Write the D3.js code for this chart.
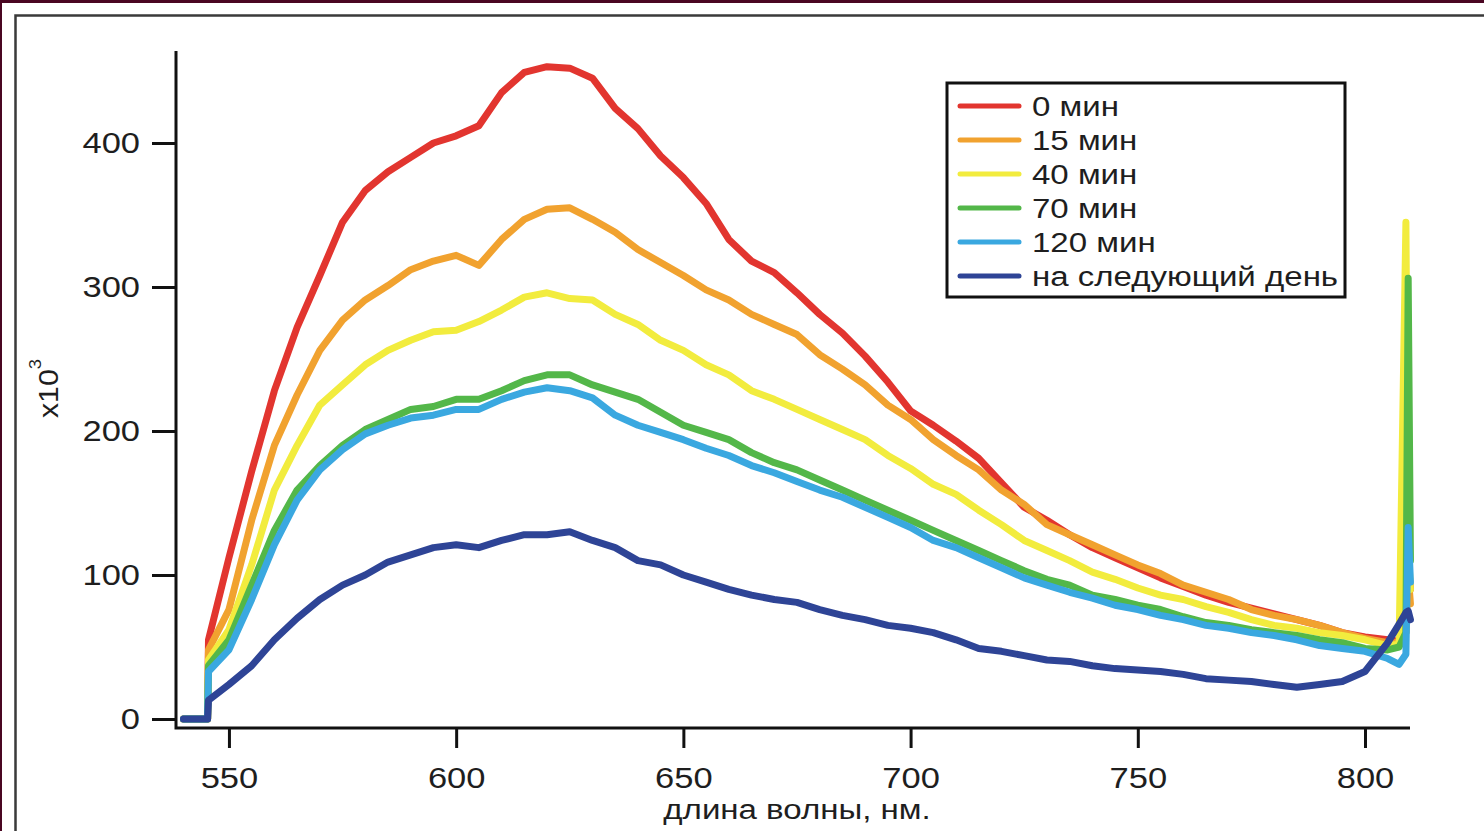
<!DOCTYPE html>
<html>
<head>
<meta charset="utf-8">
<script src="https://cdn.jsdelivr.net/npm/d3@7"></script>
<style>
  html, body { margin: 0; padding: 0; background: #4a0622; }
  svg { display: block; }
  text { font-family: "Liberation Sans", Arial, Helvetica, sans-serif; fill: #1e1e1e; }
</style>
</head>
<body>
<svg id="chart" width="1484" height="831"></svg>
<script>
// wavelength grid (nm), shared by every series
var wavelengths = [540, 545.3, 545.5,
    550, 555, 560, 565, 570, 575, 580, 585, 590, 595,
    600, 605, 610, 615, 620, 625, 630, 635, 640, 645,
    650, 655, 660, 665, 670, 675, 680, 685, 690, 695,
    700, 705, 710, 715, 720, 725, 730, 735, 740, 745,
    750, 755, 760, 765, 770, 775, 780, 785, 790, 795,
    800, 805, 807.5, 809, 809.5, 810];

// intensity, x10^3
var min0 = [0, 0, 55,
    112, 172, 228, 272, 308, 345, 367, 380, 390, 400,
    405, 412, 435, 449, 453, 452, 445, 424, 410, 391,
    376, 358, 333, 318, 310, 296, 281, 268, 252, 234,
    214, 204, 193, 181, 164, 147, 138, 128, 119, 112,
    105, 98, 92, 86, 81, 77, 73, 69, 65, 60,
    57, 55, 54, 70, 110, 90];
var min15 = [0, 0, 48,
    76, 138, 190, 225, 256, 277, 291, 301, 312, 318,
    322, 315, 333, 347, 354, 355, 347, 338, 326, 317,
    308, 298, 291, 281, 274, 267, 253, 243, 232, 218,
    208, 194, 183, 173, 159, 149, 135, 128, 121, 114,
    107, 101, 93, 88, 83, 76, 72, 69, 65, 60,
    56, 53, 53, 60, 100, 80];
var min40 = [0, 0, 41,
    62, 107, 159, 190, 218, 232, 246, 256, 263, 269,
    270, 276, 284, 293, 296, 292, 291, 281, 274, 263,
    256, 246, 239, 228, 222, 215, 208, 201, 194, 183,
    174, 163, 156, 145, 135, 124, 117, 110, 102, 97,
    91, 86, 83, 78, 74, 69, 65, 63, 60, 58,
    55, 51, 52, 345, 120, 90];
var min70 = [0, 0, 37,
    55, 93, 131, 159, 176, 190, 201, 208, 215, 217,
    222, 222, 228, 235, 239, 239, 232, 227, 222, 213,
    204, 199, 194, 185, 178, 173, 166, 159, 152, 145,
    138, 131, 124, 117, 110, 103, 97, 93, 86, 83,
    79, 76, 71, 67, 65, 62, 60, 58, 55, 53,
    49, 48, 50, 60, 306, 110];
var min120 = [0, 0, 33,
    48, 83, 121, 152, 173, 187, 198, 204, 209, 211,
    215, 215, 222, 227, 230, 228, 223, 211, 204, 199,
    194, 188, 183, 176, 171, 165, 159, 154, 147, 140,
    133, 124, 119, 112, 105, 98, 93, 88, 84, 79,
    76, 72, 69, 65, 63, 60, 58, 55, 51, 49,
    47, 42, 38, 45, 133, 95];
var nextDay = [0, 0, 13,
    24, 37, 55, 70, 83, 93, 100, 109, 114, 119,
    121, 119, 124, 128, 128, 130, 124, 119, 110, 107,
    100, 95, 90, 86, 83, 81, 76, 72, 69, 65,
    63, 60, 55, 49, 47, 44, 41, 40, 37, 35,
    34, 33, 31, 28, 27, 26, 24, 22, 24, 26,
    33, 53, 66, 74, 75, 69];

var seriesNames = ["0 мин", "15 мин", "40 мин", "70 мин", "120 мин", "на следующий день"];
var seriesValues = [min0, min15, min40, min70, min120, nextDay];
var seriesColors = ["#e2352f", "#f1a22f", "#f2ec3e", "#53b749", "#3aa8e0", "#2e4496"];

var xTicks = [550, 600, 650, 700, 750, 800];
var yTicks = [0, 100, 200, 300, 400];

// the original lettering is a wide Helvetica; stretch Liberation Sans to match
var stretchTick = 1.15
  , stretchText = 1.18
;

var svg = d3.select("#chart");

// white page and its frame
svg.append("rect")
    .attr("x", 2).attr("y", 3)
    .attr("width", 1490).attr("height", 840)
    .attr("fill", "#ffffff");
svg.append("rect")
    .attr("x", 15.5).attr("y", 15.5)
    .attr("width", 1490).attr("height", 840)
    .attr("fill", "none")
    .attr("stroke", "#3a3a3a")
    .attr("stroke-width", 2.5);

var plot = { left: 176, right: 1410, top: 51, bottom: 728 };

var x = d3.scaleLinear()
    .domain([538.35, 809.9])
    .range([plot.left, plot.right]);
var y = d3.scaleLinear()
    .domain([-6.25, 463.9])
    .range([plot.bottom, plot.top]);

// curves
var line = d3.line()
    .x(function(d) { return x(d[0]); })
    .y(function(d) { return y(d[1]); });

svg.append("g").attr("class", "curves")
  .selectAll("path")
    .data(seriesValues)
  .enter().append("path")
    .attr("d", function(vals) {
        return line(wavelengths.map(function(w, i) { return [w, vals[i]]; }));
      })
    .attr("fill", "none")
    .attr("stroke", function(d, i) { return seriesColors[i]; })
    .attr("stroke-width", 7)
    .attr("stroke-linejoin", "round")
    .attr("stroke-linecap", "round")
;

// axes
var xAxis = svg.append("g")
    .attr("transform", "translate(0," + plot.bottom + ")")
    .call(d3.axisBottom(x).tickValues(xTicks).tickSize(20).tickPadding(19).tickSizeOuter(0));
var yAxis = svg.append("g")
    .attr("transform", "translate(" + plot.left + ",0)")
    .call(d3.axisLeft(y).tickValues(yTicks).tickSize(24).tickPadding(7.3).tickSizeOuter(0));

[xAxis, yAxis].forEach(function(a) {
    a.select(".domain").remove();
    a.selectAll(".tick line").attr("stroke", "#111").attr("stroke-width", 3);
    a.selectAll(".tick text")
        .attr("font-family", null)
        .attr("transform", "scale(" + stretchTick + ",1)")
        .style("font-size", "30px")
        .attr("fill", "#1e1e1e");
});

// axis lines (L shape)
svg.append("path")
    .attr("d", "M" + plot.left + "," + plot.top + "V" + plot.bottom + "H" + plot.right)
    .attr("fill", "none")
    .attr("stroke", "#111")
    .attr("stroke-width", 3);

// axis titles
svg.append("text")
    .attr("transform", "translate(797,819) scale(" + stretchText + ",1)")
    .attr("text-anchor", "middle")
    .style("font-size", "28px")
    .text("длина волны, нм.");

var yLabel = svg.append("text")
    .attr("transform", "translate(58,418) rotate(-90) scale(1.08,1)")
    .style("font-size", "28px");
yLabel.append("tspan").text("x10");
yLabel.append("tspan").attr("dy", -17).style("font-size", "17px").text("3");

// legend
var legend = svg.append("g").attr("class", "legend");
legend.append("rect")
    .attr("x", 947).attr("y", 83)
    .attr("width", 398).attr("height", 214)
    .attr("fill", "#ffffff")
    .attr("stroke", "#111")
    .attr("stroke-width", 3);

var rows = legend.selectAll(".row")
    .data(seriesNames)
  .enter().append("g")
    .attr("class", "row")
    .attr("transform", function(d, i) { return "translate(0," + (106 + i * 34) + ")"; });
rows.append("line")
    .attr("x1", 960).attr("x2", 1019)
    .attr("stroke", function(d, i) { return seriesColors[i]; })
    .attr("stroke-width", 5)
    .attr("stroke-linecap", "round");
rows.append("text")
    .attr("transform", "translate(1032,10) scale(" + stretchText + ",1)")
    .style("font-size", "28px")
    .text(function(d) { return d; });
</script>
</body>
</html>
